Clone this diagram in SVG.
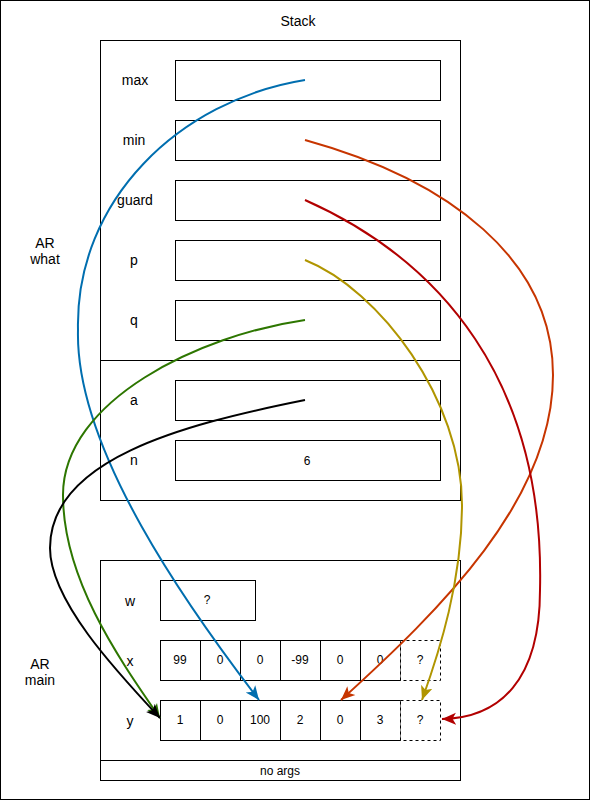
<svg xmlns="http://www.w3.org/2000/svg" width="591" height="801" viewBox="0 0 591 801">
<style>
  .box{fill:#fff;stroke:#000;stroke-width:1}
  .frame{fill:none;stroke:#000;stroke-width:1}
  .dash{fill:#fff;stroke:#000;stroke-width:1;stroke-dasharray:3 3}
  text{font-family:"Liberation Sans",Arial,sans-serif;font-size:12px;fill:#000;text-anchor:middle;dominant-baseline:central}
  text.lb{font-size:14px}
  .c{fill:none;stroke-width:2}
</style>
<defs>
  <marker id="aBlue" markerUnits="userSpaceOnUse" markerWidth="16" markerHeight="14" viewBox="-14 -7 16 14" refX="0" refY="0" orient="auto"><path d="M0,0 L-14,-6 L-10.5,0 L-14,6 Z" fill="#006EAF"/></marker>
  <marker id="aOrange" markerUnits="userSpaceOnUse" markerWidth="16" markerHeight="14" viewBox="-14 -7 16 14" refX="0" refY="0" orient="auto"><path d="M0,0 L-14,-6 L-10.5,0 L-14,6 Z" fill="#C73500"/></marker>
  <marker id="aRed" markerUnits="userSpaceOnUse" markerWidth="16" markerHeight="14" viewBox="-14 -7 16 14" refX="0" refY="0" orient="auto"><path d="M0,0 L-14,-6 L-10.5,0 L-14,6 Z" fill="#B20000"/></marker>
  <marker id="aYellow" markerUnits="userSpaceOnUse" markerWidth="16" markerHeight="14" viewBox="-14 -7 16 14" refX="0" refY="0" orient="auto"><path d="M0,0 L-14,-6 L-10.5,0 L-14,6 Z" fill="#B09500"/></marker>
  <marker id="aGreen" markerUnits="userSpaceOnUse" markerWidth="16" markerHeight="14" viewBox="-14 -7 16 14" refX="0" refY="0" orient="auto"><path d="M0,0 L-14,-6 L-10.5,0 L-14,6 Z" fill="#2D7600"/></marker>
  <marker id="aBlack" markerUnits="userSpaceOnUse" markerWidth="16" markerHeight="14" viewBox="-14 -7 16 14" refX="0" refY="0" orient="auto"><path d="M0,0 L-14,-6 L-10.5,0 L-14,6 Z" fill="#000"/></marker>
</defs>
<rect x="0.5" y="0.5" width="589" height="799" fill="#fff" stroke="#000"/>
<text class="lb" x="298" y="21">Stack</text>
<text class="lb" x="45" y="243">AR</text>
<text class="lb" x="45" y="259">what</text>
<text class="lb" x="40" y="664">AR</text>
<text class="lb" x="40" y="680">main</text>

<g id="ar-what">
  <rect class="frame" x="100.5" y="40.5" width="360" height="460"/>
  <line x1="100.5" y1="360.5" x2="460.5" y2="360.5" stroke="#000"/>
</g>
<g id="max"><text class="lb" x="135" y="80">max</text><rect class="box" x="175.5" y="60.5" width="265" height="40"/></g>
<g id="min"><text class="lb" x="134" y="140">min</text><rect class="box" x="175.5" y="120.5" width="265" height="40"/></g>
<g id="guard"><text class="lb" x="135" y="200">guard</text><rect class="box" x="175.5" y="180.5" width="265" height="40"/></g>
<g id="p"><text class="lb" x="134" y="260">p</text><rect class="box" x="175.5" y="240.5" width="265" height="40"/></g>
<g id="q"><text class="lb" x="134" y="320">q</text><rect class="box" x="175.5" y="300.5" width="265" height="40"/></g>
<g id="a"><text class="lb" x="134" y="400">a</text><rect class="box" x="175.5" y="380.5" width="265" height="40"/></g>
<g id="n"><text class="lb" x="134" y="460">n</text><rect class="box" x="175.5" y="440.5" width="265" height="40"/><text x="307" y="461">6</text></g>

<g id="ar-main">
  <rect class="frame" x="100.5" y="560.5" width="360" height="220"/>
  <line x1="100.5" y1="760.5" x2="460.5" y2="760.5" stroke="#000"/>
  <text x="280" y="771">no args</text>
</g>
<g id="w"><text class="lb" x="130" y="601">w</text><rect class="box" x="160.5" y="580.5" width="95" height="40"/><text x="207" y="600">?</text></g>
<g id="x">
  <text class="lb" x="130" y="661">x</text>
  <rect class="box" x="160.5" y="640.5" width="40" height="40"/><text x="180" y="660">99</text>
  <rect class="box" x="200.5" y="640.5" width="40" height="40"/><text x="220" y="660">0</text>
  <rect class="box" x="240.5" y="640.5" width="40" height="40"/><text x="260" y="660">0</text>
  <rect class="box" x="280.5" y="640.5" width="40" height="40"/><text x="300" y="660">-99</text>
  <rect class="box" x="320.5" y="640.5" width="40" height="40"/><text x="340" y="660">0</text>
  <rect class="box" x="360.5" y="640.5" width="40" height="40"/><text x="380" y="660">0</text>
  <rect class="dash" x="400.5" y="640.5" width="40" height="40"/><text x="420" y="660">?</text>
</g>
<g id="y">
  <text class="lb" x="130" y="721">y</text>
  <rect class="box" x="160.5" y="700.5" width="40" height="40"/><text x="180" y="720">1</text>
  <rect class="box" x="200.5" y="700.5" width="40" height="40"/><text x="220" y="720">0</text>
  <rect class="box" x="240.5" y="700.5" width="40" height="40"/><text x="260" y="720">100</text>
  <rect class="box" x="280.5" y="700.5" width="40" height="40"/><text x="300" y="720">2</text>
  <rect class="box" x="320.5" y="700.5" width="40" height="40"/><text x="340" y="720">0</text>
  <rect class="box" x="360.5" y="700.5" width="40" height="40"/><text x="380" y="720">3</text>
  <rect class="dash" x="400.5" y="700.5" width="40" height="40"/><text x="420" y="720">?</text>
</g>

<g id="connectors">
  <path class="c" stroke="#006EAF" marker-end="url(#aBlue)" d="M305,80 C180,100 75,200 78,330 C75,450 190,610 259,700"/>
  <path class="c" stroke="#C73500" marker-end="url(#aOrange)" d="M305,140 C450,180 553,260 553,375 C553,500 440,610 341,700"/>
  <path class="c" stroke="#B20000" marker-end="url(#aRed)" d="M305,200 C440,260 545,380 540,590 C540,680 500,718 442,719"/>
  <path class="c" stroke="#B09500" marker-end="url(#aYellow)" d="M305,260 C380,290 462,400 462,505 C462,580 440,650 422,700"/>
  <path class="c" stroke="#2D7600" marker-end="url(#aGreen)" d="M305,320 C200,335 63,400 63,495 C63,580 120,660 160,718"/>
  <path class="c" stroke="#000" marker-end="url(#aBlack)" d="M305,400 C180,425 50,460 50,548 C50,600 115,670 160,718"/>
</g>
</svg>
